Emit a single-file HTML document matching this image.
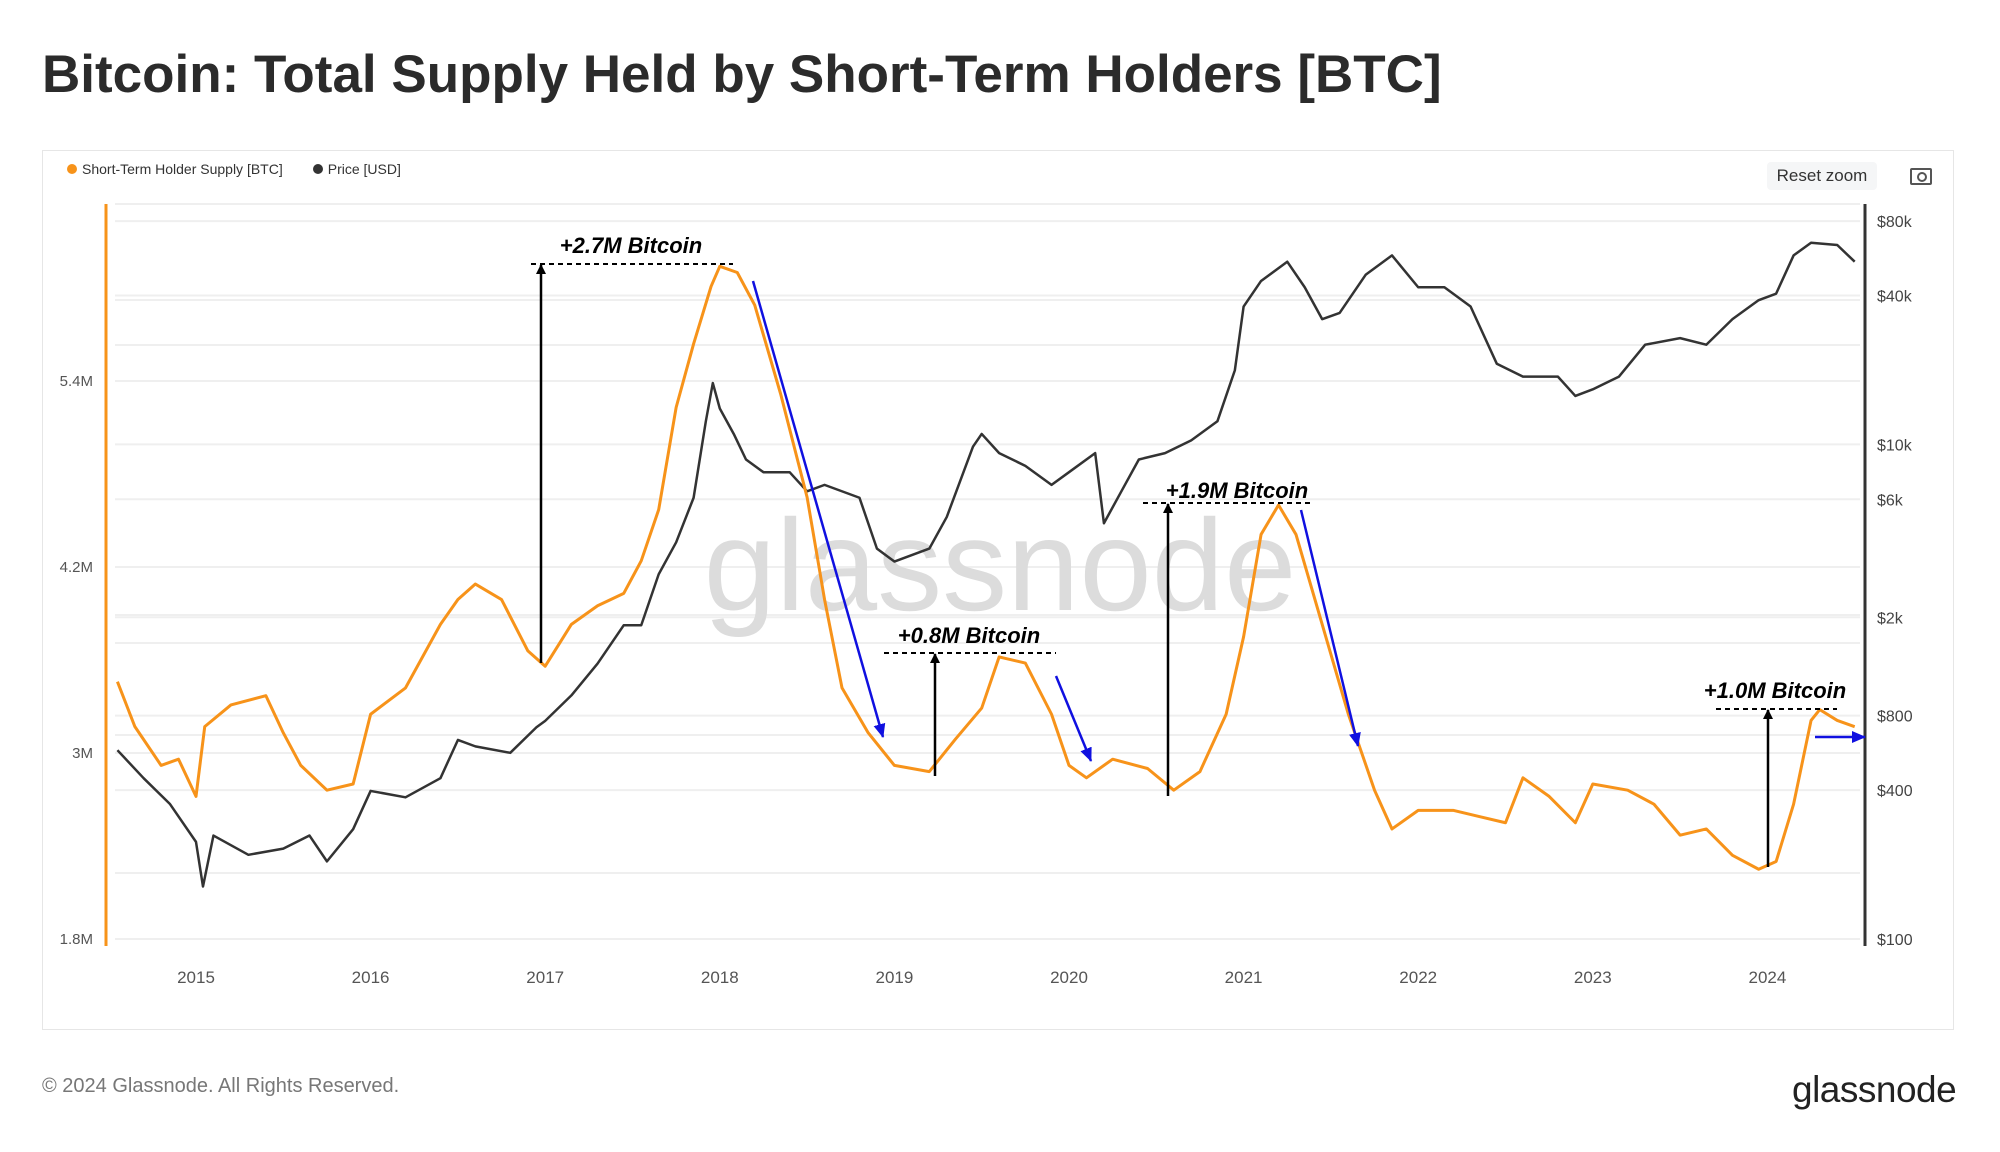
<!DOCTYPE html>
<html><head><meta charset="utf-8"><style>
html,body{margin:0;padding:0;background:#fff;}
body{width:2000px;height:1152px;overflow:hidden;position:relative;font-family:"Liberation Sans",sans-serif;}
</style></head><body>
<div style="position:absolute;left:42px;top:44px;font-size:53px;color:#2b2b2b;font-weight:bold;letter-spacing:0px">Bitcoin: Total Supply Held by Short-Term Holders [BTC]</div>
<div style="position:absolute;left:42px;top:150px;width:1912px;height:880px;border:1px solid #e6e6e6;box-sizing:border-box"></div>
<div style="position:absolute;left:42px;top:1075px;font-size:20px;color:#777">© 2024 Glassnode. All Rights Reserved.</div>
<div style="position:absolute;left:1792px;top:1069px;font-size:37px;color:#222;letter-spacing:-0.5px">glassnode</div>
<svg id="c" width="2000" height="1152" style="position:absolute;left:0;top:0" xmlns="http://www.w3.org/2000/svg"></svg>
<script>
const supplyYears=[2014.55,2014.65,2014.8,2014.9,2015.0,2015.05,2015.2,2015.4,2015.5,2015.6,2015.75,2015.9,2016.0,2016.2,2016.4,2016.5,2016.6,2016.75,2016.9,2017.0,2017.15,2017.3,2017.45,2017.55,2017.65,2017.75,2017.85,2017.95,2018.0,2018.1,2018.2,2018.35,2018.5,2018.6,2018.7,2018.85,2019.0,2019.2,2019.35,2019.5,2019.6,2019.75,2019.9,2020.0,2020.1,2020.25,2020.45,2020.6,2020.75,2020.9,2021.0,2021.1,2021.2,2021.3,2021.45,2021.6,2021.75,2021.85,2022.0,2022.2,2022.35,2022.5,2022.6,2022.75,2022.9,2023.0,2023.2,2023.35,2023.5,2023.65,2023.8,2023.95,2024.05,2024.15,2024.25,2024.3,2024.4,2024.5];
const supplyValues=[3.46,3.17,2.92,2.96,2.72,3.17,3.31,3.37,3.13,2.92,2.76,2.80,3.25,3.42,3.83,3.99,4.09,3.99,3.66,3.56,3.83,3.95,4.03,4.24,4.57,5.23,5.64,6.01,6.14,6.10,5.89,5.31,4.65,3.99,3.42,3.13,2.92,2.88,3.09,3.29,3.62,3.58,3.25,2.92,2.84,2.96,2.90,2.76,2.88,3.25,3.75,4.41,4.60,4.41,3.83,3.25,2.76,2.51,2.63,2.63,2.59,2.55,2.84,2.72,2.55,2.80,2.76,2.67,2.47,2.51,2.34,2.25,2.30,2.67,3.21,3.28,3.21,3.17];
const priceYears=[2014.55,2014.7,2014.85,2015.0,2015.04,2015.1,2015.3,2015.5,2015.65,2015.75,2015.9,2016.0,2016.2,2016.4,2016.5,2016.6,2016.8,2016.95,2017.0,2017.15,2017.3,2017.45,2017.55,2017.65,2017.75,2017.85,2017.92,2017.96,2018.0,2018.08,2018.15,2018.25,2018.4,2018.5,2018.6,2018.8,2018.9,2019.0,2019.2,2019.3,2019.45,2019.5,2019.6,2019.75,2019.9,2020.0,2020.15,2020.2,2020.3,2020.4,2020.55,2020.7,2020.85,2020.95,2021.0,2021.1,2021.25,2021.35,2021.45,2021.55,2021.7,2021.85,2022.0,2022.15,2022.3,2022.45,2022.6,2022.8,2022.9,2023.0,2023.15,2023.3,2023.5,2023.65,2023.8,2023.95,2024.05,2024.15,2024.25,2024.4,2024.5];
const priceValues=[580,447,352,247,163,262,219,232,262,206,278,397,374,447,638,601,566,718,762,966,1300,1857,1857,2985,4018,6085,12400,17700,13970,11020,8690,7720,7720,6460,6860,6085,3790,3360,3790,5090,9790,11020,9220,8190,6860,7720,9220,4800,6460,8690,9220,10380,12400,19950,36100,45800,54800,43200,32100,34000,48600,58100,43200,43200,36100,21200,18800,18800,15700,16700,18800,25300,26900,25300,32100,38300,40700,58100,65400,64000,54800];
const xTicks=[2015,2016,2017,2018,2019,2020,2021,2022,2023,2024];
const leftTicks=[1.8,3,4.2,5.4];
const leftTickLabels=["1.8M","3M","4.2M","5.4M"];
const rightTicks=[100,400,800,2000,6000,10000,40000,80000];
const rightTickLabels=["$100","$400","$800","$2k","$6k","$10k","$40k","$80k"];

const NS="http://www.w3.org/2000/svg";
const svg=document.getElementById('c');
const X=y=>196+(y-2015)*174.6;
const YL=v=>939-(v-1.8)/1.2*186;
const YR=p=>939-(Math.log10(p)-2)*247.3;
function mk(tag,attrs,parent){const e=document.createElementNS(NS,tag);for(const k in attrs)e.setAttribute(k,attrs[k]);(parent||svg).appendChild(e);return e;}

const gridYs=[];
leftTicks.forEach(v=>gridYs.push(YL(v)));
rightTicks.forEach(v=>gridYs.push(YR(v)));
gridYs.push(204,300,345,615,643,735,873);
gridYs.forEach(gy=>{
  const g=mk('line',{x1:115,x2:1860,y1:gy,y2:gy,stroke:'#efefef','stroke-width':2});
  
  
});

const la=mk('line',{x1:106,x2:106,y1:204,y2:946,stroke:'#f7931a','stroke-width':3});


const ra=mk('line',{x1:1865,x2:1865,y1:204,y2:946,stroke:'#333','stroke-width':3});



leftTicks.forEach((v,i)=>{
  const t=mk('text',{x:93,y:YL(v)+5,'text-anchor':'end','font-size':15,fill:'#555','font-family':'Liberation Sans, sans-serif'});
  t.textContent=leftTickLabels[i];
  
  
});
rightTicks.forEach((v,i)=>{
  const t=mk('text',{x:1877,y:YR(v)+6,'font-size':16,fill:'#444','font-family':'Liberation Sans, sans-serif'});
  t.textContent=rightTickLabels[i];
  
  
});
xTicks.forEach(v=>{
  const t=mk('text',{x:X(v),y:983,'text-anchor':'middle','font-size':17,fill:'#555','font-family':'Liberation Sans, sans-serif'});
  t.textContent=String(v);
  
  
});

const wm=mk('text',{x:1000,y:610,'text-anchor':'middle','font-size':130,fill:'#dcdcdc','font-family':'Liberation Sans, sans-serif'});
wm.textContent='glassnode';



const pp=mk('polyline',{points:priceYears.map((y,i)=>X(y)+','+YR(priceValues[i])).join(' '),fill:'none',stroke:'#333','stroke-width':2.5,'stroke-linejoin':'round'});


const sp=mk('polyline',{points:supplyYears.map((y,i)=>X(y)+','+YL(supplyValues[i])).join(' '),fill:'none',stroke:'#f7931a','stroke-width':3,'stroke-linejoin':'round'});



const defs=mk('defs',{});
const m1=mk('marker',{id:'ab',markerWidth:10,markerHeight:10,refX:9,refY:5,orient:'auto',markerUnits:'userSpaceOnUse'},defs);
mk('path',{d:'M0,0 L10,5 L0,10 z',fill:'#000'},m1);
const m2=mk('marker',{id:'abl',markerWidth:14,markerHeight:12,refX:13,refY:6,orient:'auto',markerUnits:'userSpaceOnUse'},defs);
mk('path',{d:'M0,0 L14,6 L0,12 z',fill:'#1010e0'},m2);
const anns=[
 {t:'+2.7M Bitcoin',tx:631,ty:253,dx1:531,dx2:733,dy:264,ax:541,ay1:663,b:[753,281,883,737]},
 {t:'+0.8M Bitcoin',tx:969,ty:643,dx1:884,dx2:1056,dy:653,ax:935,ay1:776,b:[1056,676,1091,761]},
 {t:'+1.9M Bitcoin',tx:1237,ty:498,dx1:1143,dx2:1314,dy:503,ax:1168,ay1:796,b:[1301,510,1358,746]},
 {t:'+1.0M Bitcoin',tx:1775,ty:698,dx1:1716,dx2:1837,dy:709,ax:1768,ay1:867,b:[1815,737,1865,737]}
];
anns.forEach(a=>{
  const t=mk('text',{x:a.tx,y:a.ty,'text-anchor':'middle','font-size':22,'font-weight':'bold','font-style':'italic',fill:'#000','font-family':'Liberation Sans, sans-serif'});
  t.textContent=a.t;
  
  
  const d=mk('line',{x1:a.dx1,x2:a.dx2,y1:a.dy,y2:a.dy,stroke:'#000','stroke-width':2,'stroke-dasharray':'5,4'});
  
  
  const ar=mk('line',{x1:a.ax,x2:a.ax,y1:a.ay1,y2:a.dy+1,stroke:'#000','stroke-width':2.5,'marker-end':'url(#ab)'});
  
  
  const bl=mk('line',{x1:a.b[0],y1:a.b[1],x2:a.b[2],y2:a.b[3],stroke:'#1010e0','stroke-width':2.5,'marker-end':'url(#abl)'});
  
  
});
</script>
<div style="position:absolute;left:67px;top:161px;font-size:14px;color:#333;display:flex;gap:30px">
  <span><span style="display:inline-block;width:10px;height:10px;border-radius:5px;background:#f7931a;margin-right:5px"></span>Short-Term Holder Supply [BTC]</span>
  <span><span style="display:inline-block;width:10px;height:10px;border-radius:5px;background:#333;margin-right:5px"></span>Price [USD]</span>
</div>
<div style="position:absolute;left:1767px;top:162px;width:110px;height:28px;background:#f5f6f7;border-radius:4px;font-size:17px;color:#333;text-align:center;line-height:28px">Reset zoom</div>
<div style="position:absolute;left:1910px;top:168px;width:18px;height:13px;border:2px solid #555;border-radius:2px">
  <div style="position:absolute;left:5px;top:2px;width:6px;height:6px;border:2px solid #555;border-radius:50%"></div>
</div>
</body></html>
